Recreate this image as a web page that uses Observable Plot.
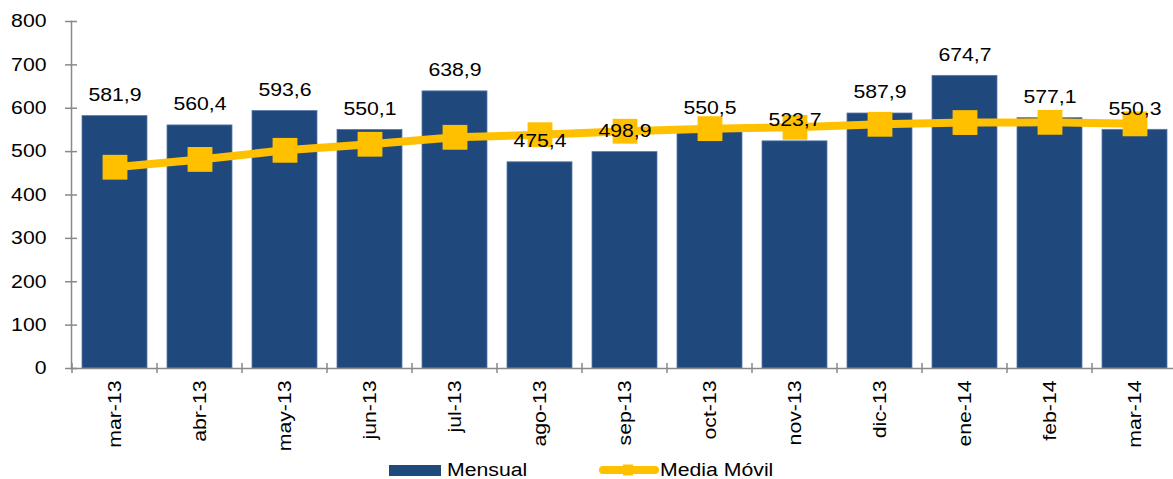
<!DOCTYPE html>
<html><head><meta charset="utf-8">
<script src="https://cdn.jsdelivr.net/npm/d3@7"></script>
<script src="https://cdn.jsdelivr.net/npm/@observablehq/plot@0.6"></script>
<style>
html,body{margin:0;overflow:hidden;background:#fff;font-family:"Liberation Sans",Arial,sans-serif;}
#wrap{position:relative;width:1182px;height:479px;overflow:hidden;}
#wrap svg{max-width:none !important;}
.lg{position:absolute;top:460px;height:20px;display:flex;align-items:center;font-size:18px;color:#000;white-space:nowrap;}
.lg span{display:inline-block;transform:scaleX(1.18);transform-origin:left center;}
</style></head><body><div id="wrap"></div>
<script>
const months = ["mar-13","abr-13","may-13","jun-13","jul-13","ago-13","sep-13","oct-13","nov-13","dic-13","ene-14","feb-14","mar-14"];
const mensual = [581.9,560.4,593.6,550.1,638.9,475.4,498.9,550.5,523.7,587.9,674.7,577.1,550.3];
const mediaMovil = [464,482,503,517,533,539,547,553,556,563,567,567.5,564];
const yTicks = [0,100,200,300,400,500,600,700,800];
const seriesNames = ["Mensual","Media Móvil"];

const BLUE = "#1f497d", GOLD = "#ffc000", AXIS = "#898989";
const STRETCH = 1.18;
const fmt = d => d.toFixed(1).replace(".", ",");
const rows = months.map((m, i) => ({month: m, mensual: mensual[i], media: mediaMovil[i]}));

const chart = Plot.plot({
  width: 1182,
  height: 450,
  marginLeft: 71,
  marginRight: 3,
  marginTop: 21,
  marginBottom: 82,
  style: {fontFamily: '"Liberation Sans", Arial, sans-serif', fontSize: "18px", color: "#000", background: "#fff", overflow: "visible"},
  x: {domain: months, paddingInner: 0.234, paddingOuter: 0.117, label: null},
  y: {domain: [0, 800], label: null},
  marks: [
    Plot.barY(rows, {x: "month", y: "mensual", fill: BLUE, stroke: "#5b7bab", strokeWidth: 0.8,
      style: "filter: drop-shadow(2px 2px 2px rgba(0,0,0,0.3))"}),
    Plot.frame({anchor: "left", stroke: AXIS, strokeWidth: 1.5}),
    Plot.frame({anchor: "bottom", stroke: AXIS, strokeWidth: 1.5}),
    Plot.axisY({ticks: yTicks, tickSize: 12, dx: 6, fill: "none", stroke: AXIS, strokeWidth: 1.5}),
    Plot.axisY({ticks: yTicks, tickSize: 0, tickPadding: 25, stroke: "none", fill: "#000", fontSize: 18, tickFormat: d => String(d)}),
    Plot.axisX({tickSize: 0, tickPadding: 12, tickRotate: -90, fontSize: 18, fill: "#000", label: null}),
    Plot.line(rows, {x: "month", y: "media", stroke: GOLD, strokeWidth: 8, curve: "linear"}),
    Plot.dot(rows, {x: "month", y: "media", symbol: "square", r: 14, fill: GOLD, stroke: "none",
      style: "filter: drop-shadow(2px 3px 2px rgba(0,0,0,0.35))"}),
    Plot.text(rows, {x: "month", y: "mensual", text: d => fmt(d.mensual), dy: -21, fontSize: 18, fill: "#000"})
  ]
});

// widen glyphs along their advance direction (the reference font is wider than Arial)
d3.select(chart).selectAll("text").each(function() {
  const t = d3.select(this);
  const tr = t.attr("transform") || "";
  t.attr("transform", `${tr} scale(${STRETCH},1)`);
});

// band-boundary ticks on the x axis, derived from the x scale
const sx = chart.scale("x");
const gap = (sx.step - sx.bandwidth) / 2;
const bounds = months.map(m => sx.apply(m) - gap).concat([sx.apply(months[months.length - 1]) + sx.bandwidth + gap]);
const y0 = chart.scale("y").apply(0);
const g = d3.select(chart).append("g").attr("stroke", AXIS).attr("stroke-width", 1.5);
bounds.forEach(b => g.append("line").attr("x1", b).attr("x2", b).attr("y1", y0 - 5).attr("y2", y0 + 5));

const wrap = document.getElementById("wrap");
wrap.appendChild(chart);

const l1 = document.createElement("div");
l1.className = "lg"; l1.style.left = "389px";
l1.innerHTML = `<svg width="52" height="11" style="margin-right:6px"><rect width="52" height="11" fill="${BLUE}"/></svg><span>${seriesNames[0]}</span>`;
const l2 = document.createElement("div");
l2.className = "lg"; l2.style.left = "597px";
l2.innerHTML = `<svg width="62" height="12" style="margin-right:1px"><line x1="6" x2="58" y1="6" y2="6" stroke="${GOLD}" stroke-width="8" stroke-linecap="round"/><rect x="26" y="0.5" width="10" height="11" fill="${GOLD}"/></svg><span>${seriesNames[1]}</span>`;
wrap.appendChild(l1);
wrap.appendChild(l2);
</script></body></html>
